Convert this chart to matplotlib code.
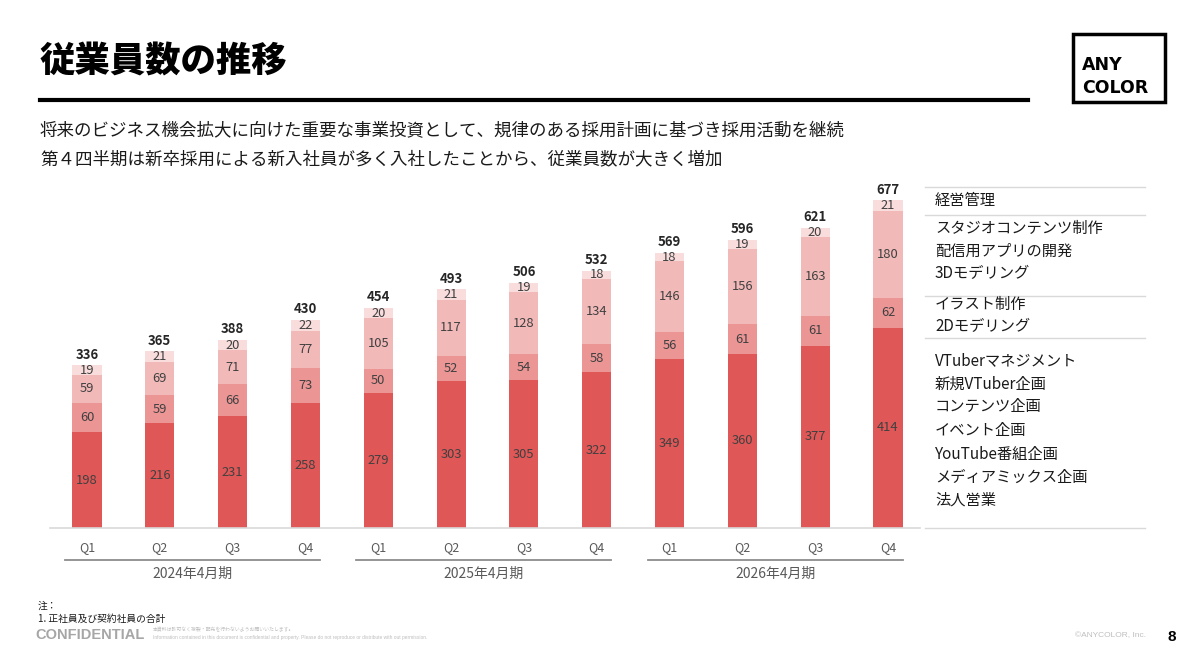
import numpy as np
import matplotlib
matplotlib.use("Agg")
import matplotlib.pyplot as plt
from matplotlib.transforms import blended_transform_factory
from matplotlib.patches import Rectangle

plt.rcParams['font.family'] = ['Noto Sans CJK JP', 'DejaVu Sans']

# data
quarters = ["Q1", "Q2", "Q3", "Q4"] * 3
periods = ["2024年4月期", "2025年4月期", "2026年4月期"]
business = [198, 216, 231, 258, 279, 303, 305, 322, 349, 360, 377, 414]
designer = [60, 59, 66, 73, 50, 52, 54, 58, 56, 61, 61, 62]
engineer = [59, 69, 71, 77, 105, 117, 128, 134, 146, 156, 163, 180]
corporate = [19, 21, 20, 22, 20, 21, 19, 18, 18, 19, 20, 21]
series_names = ["ビジネス", "デザイナー", "エンジニア", "コーポレート"]
colors = ["#E05757", "#EB9595", "#F2B9B9", "#F9DCDC"]

table_groups = [
    ["経営管理"],
    ["スタジオコンテンツ制作", "配信用アプリの開発", "3Dモデリング"],
    ["イラスト制作", "2Dモデリング"],
    ["VTuberマネジメント", "新規VTuber企画", "コンテンツ企画", "イベント企画",
     "YouTube番組企画", "メディアミックス企画", "法人営業"],
]

W, H = 1200, 672
fig = plt.figure(figsize=(W / 100, H / 100), dpi=100)

# overlay axes in pixel coordinates
ov = fig.add_axes([0, 0, 1, 1])
ov.set_xlim(0, W)
ov.set_ylim(H, 0)
ov.axis("off")

# chart axes
ax = fig.add_axes([50 / W, (H - 528) / H, 870 / W, 348 / H])
x = np.arange(len(business))
ax.set_xlim(-0.508, 11.44)
ax.set_ylim(0, 348 / 0.4838)

stack = [business, designer, engineer, corporate]
bottom = np.zeros(len(x))
for vals, col in zip(stack, colors):
    vals = np.array(vals)
    ax.bar(x, vals, width=0.40, bottom=bottom, color=col, linewidth=0)
    for xi, b, v in zip(x, bottom, vals):
        ax.text(xi, b + v / 2, str(v), ha="center", va="center",
                fontsize=9.3, color="#404040")
    bottom = bottom + vals

for xi, t in zip(x, bottom):
    ax.text(xi, t + 8, str(int(t)), ha="center", va="bottom",
            fontsize=9.5, fontweight="bold", color="#262626")

for s in ["top", "right", "left"]:
    ax.spines[s].set_visible(False)
ax.spines["bottom"].set_color("#D9D9D9")
ax.spines["bottom"].set_linewidth(1.2)
ax.set_yticks([])
ax.set_xticks([])

# quarter labels and period groups
bt = blended_transform_factory(ax.transData, ov.transData)
for xi, q in zip(x, quarters):
    ax.text(xi, 548, q, transform=bt, ha="center", va="center",
            fontsize=9, color="#595959", clip_on=False)
for i, p in enumerate(periods):
    x0, x1 = 4 * i - 0.3, 4 * i + 3 + 0.2
    ax.plot([x0, x1], [560, 560], transform=bt, color="#8C8C8C",
            linewidth=1.3, clip_on=False)
    ax.text((x0 + x1) / 2, 574, p, transform=bt, ha="center", va="center",
            fontsize=10, color="#595959", clip_on=False)

# legend (top to bottom: corporate ... business)
for k, (name, col) in enumerate(zip(series_names[::-1], colors[::-1])):
    yy = 216 + 24 * k
    ov.add_patch(Rectangle((68, yy - 4), 8, 8, color=col, linewidth=0))
    ov.text(81, yy, name, fontsize=9, color="#595959", va="center")

# right side table
line_ys = [187, 215, 296, 338, 528]
for ly in line_ys:
    ov.plot([925, 1145], [ly, ly], color="#D9D9D9", linewidth=1.0)
text_ys = [[200], [228, 251, 274], [304, 327],
           [361, 384, 407, 431, 454, 477, 500]]
for grp, ys in zip(table_groups, text_ys):
    for label, ty in zip(grp, ys):
        ov.text(935, ty, label, fontsize=11, color="#1A1A1A", va="center")

# title and subtitle
ov.text(40, 62, "従業員数の推移", fontsize=25.5, fontweight="heavy",
        color="black", va="center")
ov.plot([40, 1028], [100, 100], color="black", linewidth=3)
ov.text(40, 131, "将来のビジネス機会拡大に向けた重要な事業投資として、規律のある採用計画に基づき採用活動を継続",
        fontsize=12.6, color="#1A1A1A", va="center")
ov.text(40, 159, "第４四半期は新卒採用による新入社員が多く入社したことから、従業員数が大きく増加",
        fontsize=12.6, color="#1A1A1A", va="center")

# logo
ov.add_patch(Rectangle((1073, 34), 92, 68, fill=False, edgecolor="black",
                       linewidth=2.5))
ov.text(1082, 65, "ANY", fontsize=12.5, fontweight="bold", va="center",
        family=["DejaVu Sans"])
ov.text(1082, 88, "COLOR", fontsize=12.5, fontweight="bold", va="center",
        family=["DejaVu Sans"])

# footer
ov.text(38, 606, "注：", fontsize=7, color="#1A1A1A", va="center")
ov.text(38, 619, "1. 正社員及び契約社員の合計", fontsize=7, color="#1A1A1A", va="center")
ov.text(35, 635, "CONFIDENTIAL", fontsize=10.5, fontweight="bold", color="#A6A6A6",
        va="center", family=["Liberation Sans", "DejaVu Sans"])
ov.text(153, 630, "本資料は許可なく複製・配布を行わないようお願いいたします。",
        fontsize=3.5, color="#BFBFBF", va="center")
ov.text(153, 638, "Information contained in this document is confidential and property. Please do not reproduce or distribute with out permission.",
        fontsize=3.5, color="#BFBFBF", va="center", family=["Liberation Sans", "DejaVu Sans"])
ov.text(1075, 636, "©ANYCOLOR, Inc.", fontsize=6, color="#BFBFBF", va="center",
        family=["Liberation Sans", "DejaVu Sans"])
ov.text(1168, 637, "8", fontsize=11, fontweight="bold", color="black", va="center",
        family=["Liberation Sans", "DejaVu Sans"])

fig.savefig("out.png", dpi=100)
